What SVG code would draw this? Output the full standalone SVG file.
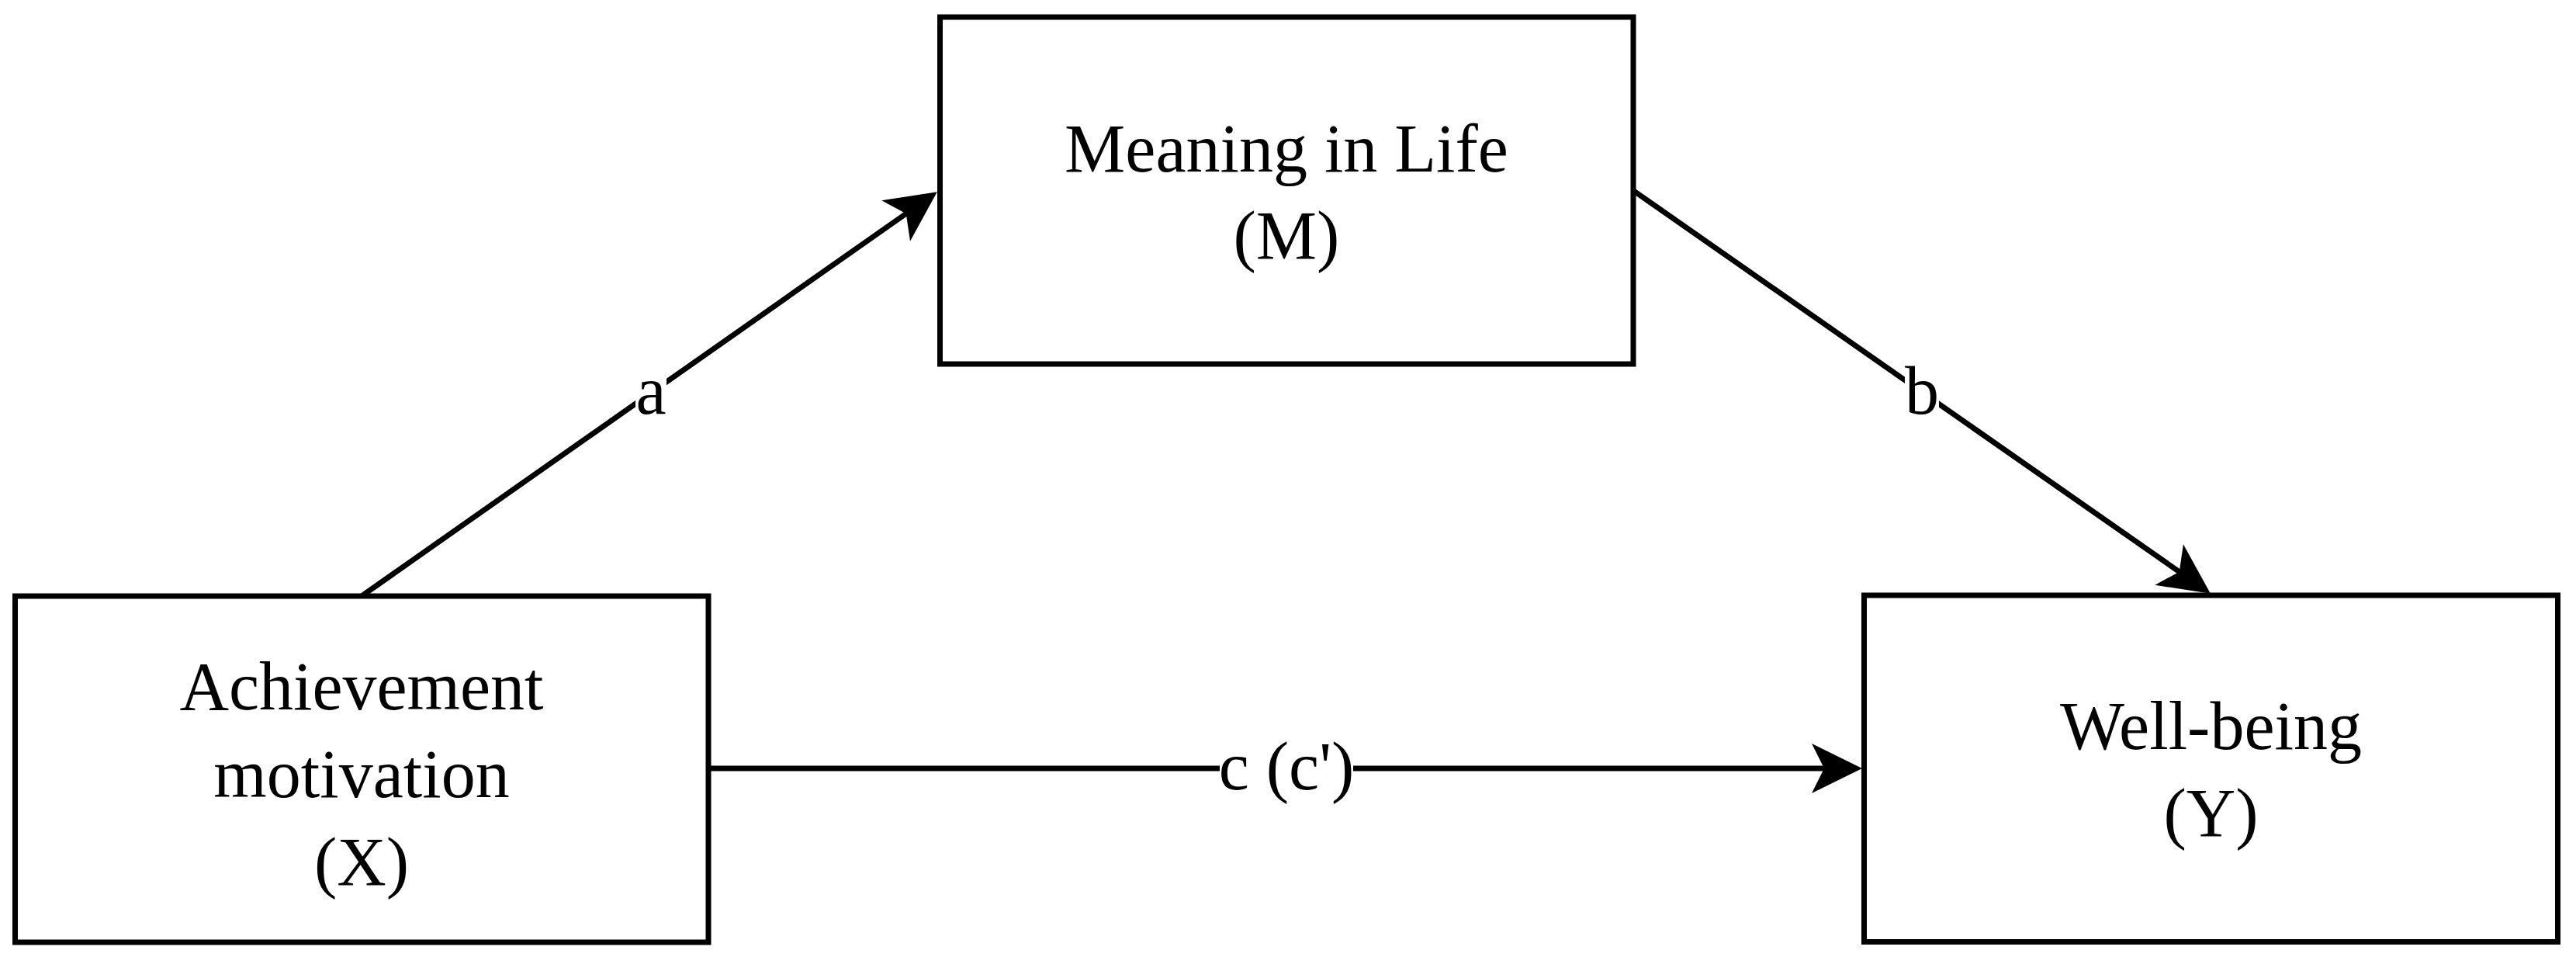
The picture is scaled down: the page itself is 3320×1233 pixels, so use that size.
<svg xmlns="http://www.w3.org/2000/svg" width="3320" height="1233" viewBox="0 0 3320 1233">
  <style>
    .box { fill: #ffffff; stroke: #000000; stroke-width: 7; }
    .lbl { font-family: "Liberation Serif", "Times New Roman", serif; font-size: 88px; fill: #000000; text-anchor: middle; }
    .edge { stroke: #000000; stroke-width: 7; fill: none; }
    .ebg { fill: #ffffff; }
  </style>
  <defs>
    <marker id="arrow" markerUnits="userSpaceOnUse" viewBox="-25 -36 75 72" refX="0" refY="0" markerWidth="75" markerHeight="72" orient="auto">
      <path d="M45,0 L-20,-32 L-4,0 L-20,32 Z" fill="#000000"/>
    </marker>
  </defs>
  <rect x="0" y="0" width="3320" height="1233" fill="#ffffff"/>

  <g id="connectors">
    <line class="edge" x1="466" y1="768" x2="1171" y2="273" marker-end="url(#arrow)"/>
    <line class="edge" x1="2105" y1="245.5" x2="2812" y2="739" marker-end="url(#arrow)"/>
    <line class="edge" x1="913" y1="990" x2="2355" y2="990" marker-end="url(#arrow)"/>
    <rect class="ebg" x="819" y="480" width="40" height="60"/>
    <text class="lbl" x="839" y="533">a</text>
    <rect class="ebg" x="2455" y="480" width="44" height="60"/>
    <text class="lbl" x="2477" y="533">b</text>
    <rect class="ebg" x="1572" y="955" width="172" height="80"/>
    <text class="lbl" x="1658" y="1017">c (c')</text>
  </g>

  <g id="node-m">
    <rect class="box" x="1211.5" y="22" width="893.5" height="447"/>
    <text class="lbl" x="1658" y="221">Meaning in Life</text>
    <text class="lbl" x="1658" y="333">(M)</text>
  </g>

  <g id="node-x">
    <rect class="box" x="19.5" y="768" width="893.5" height="446"/>
    <text class="lbl" x="466" y="914">Achievement</text>
    <text class="lbl" x="466" y="1027">motivation</text>
    <text class="lbl" x="466" y="1140">(X)</text>
  </g>

  <g id="node-y">
    <rect class="box" x="2402.5" y="767" width="894" height="446.5"/>
    <text class="lbl" x="2849.5" y="965">Well-being</text>
    <text class="lbl" x="2849.5" y="1077">(Y)</text>
  </g>
</svg>
